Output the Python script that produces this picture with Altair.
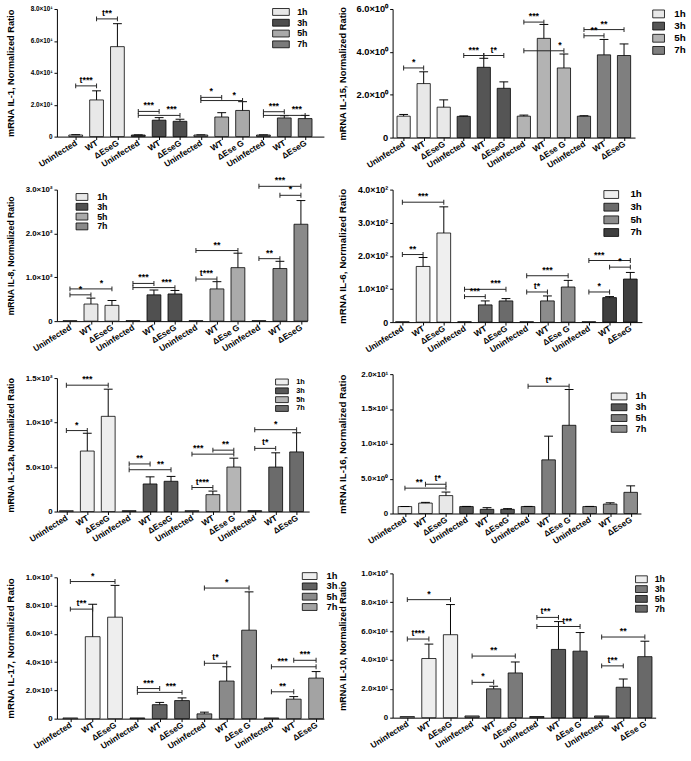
import altair as alt
import pandas as pd

FONT = "Liberation Sans"
GROUPS = ["1h", "3h", "5h", "7h"]

LABELS_STD = ["Uninfected", "WT", "ΔEseG", "Uninfected", "WT", "ΔEseG",
              "Uninfected", "WT", "ΔEse G", "Uninfected", "WT", "ΔEseG"]
LABELS_IL10 = ["Uninfected", "WT", "ΔEseG", "Uninfected", "WT", "ΔEseG",
               "Uninfected", "WT", "ΔEse G", "Uninfected", "WT", "ΔEse G"]

# ---- values (mean, upper error, significance brackets [a, b, y, label, label_x]) ----
IL1_MEAN = [1, 23, 56.4, 1, 10.3, 9.6, 1, 12.3, 16.4, 1, 11.7, 11.3]
IL1_ERR = [0.2, 5.7, 14.4, 0.1, 1.6, 1.3, 0.1, 2.7, 5.5, 0.1, 1.4, 2.0]
IL1_SIG = [[0, 1, 31.8, "t***", 0.5], [1, 2, 73.8, "t**", 1.5], [3, 4, 15.8, "***", 3.5],
           [3, 5, 13.3, "***", 4.6], [6, 7, 24.6, "*", 6.5], [6, 8, 22.6, "*", 7.6],
           [9, 10, 15.6, "***", 9.5], [9, 11, 13.3, "***", 10.6]]

IL15_MEAN = [1.0, 2.52, 1.42, 0.99, 3.28, 2.3, 1.0, 4.63, 3.25, 1.0, 3.86, 3.83]
IL15_ERR = [0.08, 0.55, 0.34, 0.02, 0.42, 0.3, 0.05, 0.65, 0.65, 0.02, 0.72, 0.54]
IL15_SIG = [[0, 1, 3.25, "*", 0.5], [3, 4, 3.83, "***", 3.5], [4, 5, 3.83, "t*", 4.5],
            [6, 7, 5.39, "***", 6.5], [6, 8, 4.05, "*", 7.8], [9, 10, 4.75, "**", 9.5],
            [9, 11, 5.04, "**", 10]]

IL8_MEAN = [1, 39, 36, 1, 60, 62, 1, 73.5, 122, 1, 120, 221]
IL8_ERR = [0, 13.5, 11, 0, 11, 8, 0, 16.5, 33, 0, 16.5, 54]
IL8_SIG = [[0, 1, 60, "*", 0.5], [0, 2, 73.5, "*", 1.5], [3, 4, 86, "***", 3.5],
           [3, 5, 76.5, "***", 4.6], [6, 7, 96, "t***", 6.5], [6, 8, 161, "**", 7.0],
           [9, 10, 142.5, "**", 9.5], [9, 11, 307.5, "***", 10], [10, 11, 287, "*", 10.5]]

IL6_MEAN = [1, 168, 269, 1, 52, 64, 1, 64, 106, 1, 74, 130]
IL6_ERR = [0, 27, 79, 0, 12, 7, 0, 15, 20, 0, 3, 20]
IL6_SIG = [[0, 1, 204, "**", 0.5], [0, 2, 362, "***", 1], [3, 4, 77, "***", 3.5],
           [3, 5, 99, "***", 4.5], [6, 7, 91, "t*", 6.5], [6, 8, 140, "***", 7],
           [9, 10, 91, "*", 9.5], [9, 11, 186, "***", 9.5], [10, 11, 166, "*", 10.5]]

IL12_MEAN = [1, 68, 107, 1, 31, 34, 1, 19, 50, 1, 50, 67]
IL12_ERR = [0, 20, 30.5, 0, 8, 5.5, 0, 4, 10, 0, 16, 21.5]
IL12_SIG = [[0, 1, 91, "*", 0.5], [0, 2, 142, "***", 1], [3, 4, 53.5, "**", 3.5],
            [3, 5, 47, "**", 4.5], [6, 7, 27, "t***", 6.5], [6, 8, 64.5, "***", 6.3],
            [7, 8, 69, "**", 7.6], [9, 10, 71, "t*", 9.5], [9, 11, 92, "*", 10]]

IL16_MEAN = [1.0, 1.5, 2.57, 1.0, 0.6, 0.6, 1.0, 7.7, 12.66, 1.0, 1.36, 3.04]
IL16_ERR = [0.02, 0.1, 0.51, 0.02, 0.24, 0.1, 0.02, 3.4, 5.14, 0.02, 0.18, 0.93]
IL16_SIG = [[0, 2, 3.64, "**", 0.7], [1, 2, 4.2, "t*", 1.6], [6, 8, 18.27, "t*", 7]]

IL17_MEAN = [0.5, 58, 71.8, 0.5, 9.9, 12.8, 3.4, 26.6, 62.6, 0.5, 13.8, 28.7]
IL17_ERR = [0, 23, 22.5, 0, 1.6, 1.9, 1.2, 10.1, 27.1, 0, 1.8, 4.6]
IL17_SIG = [[0, 1, 77.5, "t**", 0.5], [0, 2, 97, "*", 1], [3, 4, 21.3, "***", 3.5],
            [3, 5, 18.6, "***", 4.5], [6, 7, 39.2, "t*", 6.5], [6, 8, 92.4, "*", 7],
            [9, 10, 19, "**", 9.5], [9, 11, 36.7, "***", 9.5], [10, 11, 41.3, "***", 10.5]]

IL10_MEAN = [0.8, 41, 57.5, 1.2, 20, 31, 0.8, 47.3, 46.1, 1.2, 21.1, 42.3]
IL10_ERR = [0, 10, 20.9, 0, 1.8, 7.6, 0, 19.3, 12.9, 0, 5.7, 10.7]
IL10_SIG = [[0, 1, 54.5, "t***", 0.5], [0, 2, 81.8, "*", 1], [3, 4, 24.5, "*", 3.5],
            [3, 5, 42.7, "**", 4], [6, 7, 69.5, "t**", 6.4], [6, 8, 63.2, "t**", 7.4],
            [9, 10, 35.9, "t**", 9.5], [9, 11, 55.9, "**", 10]]

Y_EXPR = ("datum.value == 0 ? '0' : format(datum.value / pow(10, floor(log(datum.value) / LN10 + 1e-9)), '.1f')"
          " + '×10' + ['⁰','¹','²','³'][floor(log(datum.value) / LN10 + 1e-9)]")

# legend style: (orient, offset, spacer side, spacer padding, spacer font, row padding,
#                symbol w, symbol h, gap symbol->label, label font size)
PANELS = [
    dict(title="mRNA IL-1, Normalized Ratio", mean=IL1_MEAN, err=IL1_ERR, sig=IL1_SIG, labels=LABELS_STD,
         colors=["#e8e8e8", "#4d4d4d", "#a9a9a9", "#7b7b7b"], ymax=80, yticks=[0, 20, 40, 60, 80],
         xdom=[-0.9, 11.9], w=272, h=130, g=0, tfs=9.4, yfs=6.5, tx=-42,
         leg=("top-right", -2.5, "right", 19.5, 9, -3.4, 17, 7, 3, 9)),
    dict(title="mRNA IL-15, Normalized Ratio", mean=IL15_MEAN, err=IL15_ERR, sig=IL15_SIG, labels=LABELS_STD,
         colors=["#e8e8e8", "#555555", "#b3b3b3", "#7f7f7f"], ymax=6, yticks=[0, 2, 4, 6],
         xdom=[-0.55, 11.55], w=247, h=131, g=0, tfs=9.5, yfs=9.5, tx=-46,
         leg=("right", 16, None, 0, 0, 0.4, 12, 8, 5, 10)),
    dict(title="mRNA IL-8, Normalized Ratio", mean=IL8_MEAN, err=IL8_ERR, sig=IL8_SIG, labels=LABELS_STD,
         colors=["#e8e8e8", "#505050", "#aaaaaa", "#8a8a8a"], ymax=300, yticks=[0, 100, 200, 300],
         xdom=[-0.62, 11.3], w=255, h=134, g=0, tfs=8.8, yfs=8, tx=-42,
         leg=("top-left", 2.5, "left", 15, 9, -2.5, 12, 7, 5, 9)),
    dict(title="mRNA IL-6, Normalized Ratio", mean=IL6_MEAN, err=IL6_ERR, sig=IL6_SIG, labels=LABELS_STD,
         colors=["#efefef", "#6b6b6b", "#8c8c8c", "#3f3f3f"], ymax=400, yticks=[0, 100, 200, 300, 400],
         xdom=[-0.47, 11.56], w=254, h=135, g=0, tfs=10, yfs=9, tx=-46,
         leg=("top-right", 0, None, 0, 0, 0.9, 15, 8, 7, 10)),
    dict(title="mRNA IL-12a, Normalized Ratio", mean=IL12_MEAN, err=IL12_ERR, sig=IL12_SIG, labels=LABELS_STD,
         colors=["#eeeeee", "#575757", "#b5b5b5", "#6b6b6b"], ymax=150, yticks=[0, 50, 100, 150],
         xdom=[-0.45, 11.6], w=257, h=136, g=4, tfs=9.2, yfs=8, tx=-42,
         leg=("top-right", 4, None, 0, 0, -3.2, 13, 6, 4, 7.5)),
    dict(title="mRNA IL-16, Normalized Ratio", mean=IL16_MEAN, err=IL16_ERR, sig=IL16_SIG, labels=LABELS_STD,
         colors=["#e8e8e8", "#585858", "#7d7d7d", "#8d8d8d"], ymax=20, yticks=[0, 5, 10, 15, 20],
         xdom=[-0.6, 11.5], w=253, h=142, g=0, tfs=9.9, yfs=8, tx=-46,
         leg=("top-right", -6, "top", 20, 4, 0, 16, 7, 4, 9.5)),
    dict(title="mRNA IL-17, Normalized Ratio", mean=IL17_MEAN, err=IL17_ERR, sig=IL17_SIG, labels=LABELS_STD,
         colors=["#eeeeee", "#626262", "#8a8a8a", "#a3a3a3"], ymax=100, yticks=[0, 20, 40, 60, 80, 100],
         xdom=[-0.6, 11.35], w=272, h=144, g=12, tfs=10, yfs=8, tx=-42,
         leg=("top-right", -14, "top", 16, 4, -0.5, 15, 7, 5, 9.5)),
    dict(title="mRNA IL-10, Normalized Ratio", mean=IL10_MEAN, err=IL10_ERR, sig=IL10_SIG, labels=LABELS_IL10,
         colors=["#eeeeee", "#7a7a7a", "#575757", "#696969"], ymax=100, yticks=[0, 20, 40, 60, 80, 100],
         xdom=[-0.68, 11.5], w=268, h=147, g=8, tfs=9.2, yfs=8, tx=-46,
         leg=("right", -22, "top", 5.5, 4, -1.3, 12, 7, 3, 9)),
]


def make_legend(spec):
    orient, offset, t_orient, t_pad, t_fs, rp, sw, sh, gap, fs = spec
    r = round(2 * sh / sw, 3)
    kw = dict(orient=orient, offset=offset, padding=0,
              symbolType=f"M-2,-{r}H2V{r}H-2Z", symbolSize=(sw / 2) ** 2, symbolOffset=sw / 4,
              symbolStrokeColor="black", symbolStrokeWidth=0.8, symbolOpacity=1,
              labelFontSize=fs, labelFontWeight="bold", labelFont=FONT, labelColor="black",
              rowPadding=rp, labelOffset=sw / 2 + gap)
    if t_orient:
        kw.update(title=" ", titleOrient=t_orient, titlePadding=t_pad, titleFontSize=t_fs)
    else:
        kw.update(title=None)
    return alt.Legend(**kw)


def make_panel(p):
    n = len(p["mean"])
    bars = pd.DataFrame({"i": list(range(n)), "mean": p["mean"], "err": p["err"],
                         "time": [GROUPS[k // 3] for k in range(n)]})
    sig = pd.DataFrame(p["sig"], columns=["a", "b", "y", "label", "tx"])
    cell_h = p["g"] + p["h"]

    xs = alt.Scale(domain=p["xdom"], nice=False, zero=False)
    ys = alt.Scale(domain=[0, p["ymax"]], nice=False, range=[cell_h, p["g"]])
    lab_list = "[" + ",".join("'" + s + "'" for s in p["labels"]) + "]"
    xaxis = alt.Axis(values=list(range(n)), labelExpr=lab_list + "[datum.value]", title=None,
                     labelAngle=-32, labelAlign="right", labelBaseline="middle", labelFontSize=8.5,
                     labelOverlap=False, labelFlush=False, tickSize=3, labelPadding=2, grid=False)
    yaxis = alt.Axis(values=p["yticks"], labelExpr=Y_EXPR, title=p["title"], titleFontSize=p["tfs"],
                     titleX=p["tx"], titleY=p["g"] + p["h"] / 2, titleAngle=270, titleAlign="center",
                     titleBaseline="bottom", labelFontSize=p["yfs"], labelOverlap=False,
                     labelFlush=False, tickSize=3, labelPadding=2, grid=False)
    legend = make_legend(p["leg"])

    def X(field):
        return alt.X(field, scale=xs, axis=xaxis)

    def Y(field):
        return alt.Y(field, scale=ys, axis=yaxis)

    base = alt.Chart(bars)
    bar = base.transform_calculate(x0="datum.i - 0.33", x1="datum.i + 0.33").mark_bar(
        stroke="black", strokeWidth=0.8).encode(
        x=X("x0:Q"), x2="x1:Q", y=Y("mean:Q"), y2=alt.datum(0),
        fill=alt.Fill("time:N", scale=alt.Scale(domain=GROUPS, range=p["colors"]), legend=legend))

    errs = base.transform_filter("datum.err > 0").transform_calculate(top="datum.mean + datum.err")
    err_rule = errs.mark_rule(color="black", strokeWidth=1).encode(x=X("i:Q"), y=Y("mean:Q"), y2="top:Q")
    err_cap = errs.mark_tick(orient="horizontal", color="black", size=9, thickness=1, opacity=1).encode(
        x=X("i:Q"), y=Y("top:Q"))

    sbase = alt.Chart(sig)
    sline = sbase.mark_rule(color="#222222", strokeWidth=1).encode(x=X("a:Q"), x2="b:Q", y=Y("y:Q"))
    sends = sbase.transform_fold(["a", "b"], as_=["end", "xe"]).mark_tick(
        orient="vertical", color="#222222", size=5, thickness=1, opacity=1).encode(x=X("xe:Q"), y=Y("y:Q"))
    stext = sbase.mark_text(baseline="bottom", dy=-1, fontWeight="bold", fontSize=9, font=FONT,
                            color="black").encode(x=X("tx:Q"), y=Y("y:Q"), text="label:N")

    return alt.layer(bar, err_rule, err_cap, sline, sends, stext).properties(width=p["w"], height=cell_h)


panels = [make_panel(p) for p in PANELS]

chart = alt.concat(*panels, columns=2, spacing={"row": 53, "column": 70}, bounds="flush", align="each").resolve_scale(
    x="independent", y="independent", fill="independent").resolve_legend(fill="independent").properties(
    padding={"left": 5, "top": -3, "right": 5, "bottom": 5}, background="white").configure_view(
    stroke=None).configure_axis(
    domainColor="black", tickColor="black", labelColor="black", titleColor="black",
    labelFont=FONT, titleFont=FONT, labelFontWeight="bold", titleFontWeight="bold",
    domainWidth=1, tickWidth=1, grid=False)

chart.save("out.html", embed_options={"renderer": "svg", "actions": False})
